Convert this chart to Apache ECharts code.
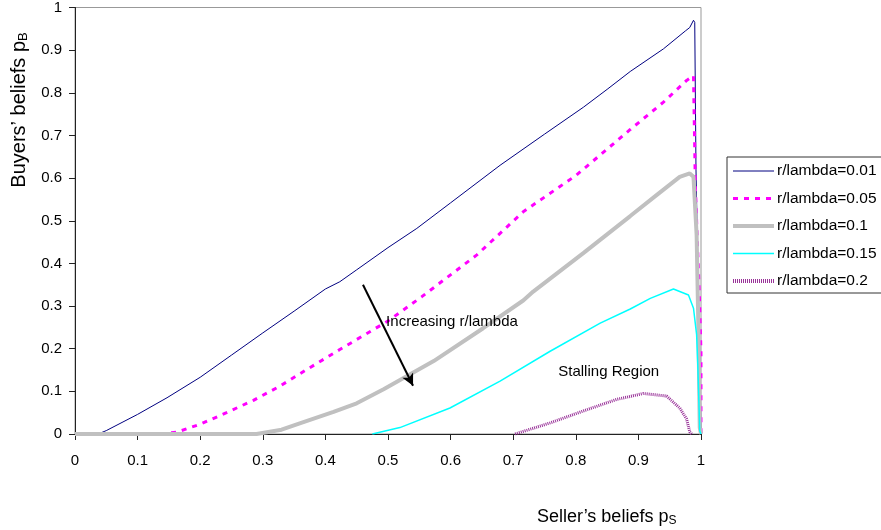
<!DOCTYPE html>
<html>
<head>
<meta charset="utf-8">
<script src="https://cdn.jsdelivr.net/npm/echarts@6/dist/echarts.min.js"></script>
<style>
  html, body { margin: 0; padding: 0; background: #fff; }
  #chart { width: 881px; height: 530px; }
</style>
</head>
<body>
<div id="chart"></div>
<script>
// [seller belief p_S, buyer belief p_B]
var names = ['r/lambda=0.01', 'r/lambda=0.05', 'r/lambda=0.1', 'r/lambda=0.15', 'r/lambda=0.2'];

var r001 = [[0.037,0],[0.05,0.008],[0.1,0.046],[0.147,0.085],[0.2,0.133],[0.25,0.185],[0.3,0.237],
  [0.35,0.288],[0.4,0.34],[0.423,0.357],[0.45,0.385],[0.5,0.437],[0.546,0.482],[0.6,0.542],[0.679,0.63],
  [0.75,0.703],[0.812,0.766],[0.85,0.808],[0.887,0.85],[0.94,0.903],[0.975,0.945],[0.982,0.953],
  [0.988,0.97],[0.99,0.965],[0.992,0.62],[0.995,0.39],[0.998,0.19],[1,0]];

var r005 = [[0.136,0],[0.162,0.004],[0.2,0.023],[0.242,0.05],[0.285,0.079],[0.327,0.112],[0.37,0.151],
  [0.423,0.198],[0.5,0.265],[0.554,0.322],[0.642,0.42],[0.716,0.521],[0.801,0.607],[0.887,0.714],
  [0.94,0.778],[0.977,0.829],[0.988,0.84],[0.991,0.58],[0.998,0.3],[1,0.19],[1,0]];

var r01 = [[0,0],[0.29,0],[0.33,0.01],[0.359,0.025],[0.413,0.052],[0.45,0.072],[0.493,0.105],[0.573,0.171],
  [0.652,0.248],[0.716,0.313],[0.732,0.334],[0.812,0.424],[0.887,0.511],[0.929,0.56],[0.966,0.603],
  [0.982,0.611],[0.988,0.603],[0.993,0.467],[0.996,0.234],[0.998,0.015],[1,0]];

var r015 = [[0.475,0],[0.519,0.015],[0.599,0.061],[0.679,0.124],[0.759,0.194],[0.839,0.26],
  [0.887,0.293],[0.919,0.318],[0.956,0.34],[0.98,0.326],[0.988,0.295],[0.993,0.233],[0.995,0.156],
  [0.998,0.007],[1,0]];

var r02 = [[0.703,0],[0.759,0.026],[0.812,0.054],[0.865,0.081],[0.908,0.095],[0.945,0.089],
  [0.966,0.061],[0.977,0.035],[0.982,0.005],[0.985,0]];

// annotations, in data coordinates
var arrowFrom = [0.46, 0.35], arrowTo = [0.54, 0.113];
var notes = [{ text: 'Increasing r/lambda', at: [0.497, 0.262] }, { text: 'Stalling Region', at: [0.772, 0.146] }];

var FONT = '"Liberation Sans", Arial, sans-serif';

var styles = [
  { color: '#000080', width: 1, type: 'solid' },
  { color: '#ff00ff', width: 3, type: [5, 6] },
  { color: '#c0c0c0', width: 4, type: 'solid' },
  { color: '#00ffff', width: 1.5, type: 'solid' },
  { color: '#993399', width: 3, type: [1, 1] }
];
var allData = [r001, r005, r01, r015, r02];

var series = allData.map(function (d, i) {
  return {
    name: names[i],
    type: 'line',
    data: d,
    symbol: 'none',
    smooth: false,
    animation: false,
    color: styles[i].color,
    lineStyle: { color: styles[i].color, width: styles[i].width, type: styles[i].type },
    emphasis: { disabled: true }
  };
});

series[0].markLine = {
  silent: true,
  symbol: ['none', 'arrow'],
  symbolSize: [9, 12],
  label: { show: false },
  lineStyle: { color: '#000', width: 2, type: 'solid' },
  data: [[{ coord: arrowFrom }, { coord: arrowTo }]]
};
series[0].markPoint = {
  silent: true,
  symbol: 'circle',
  symbolSize: 0,
  data: notes.map(function (n) {
    return {
      coord: n.at,
      label: { show: true, position: 'right', distance: 0, formatter: n.text, color: '#000', fontSize: 15, fontFamily: FONT }
    };
  })
};

var legendWidths = [1, 3, 4, 1.5, 4];

var option = {
  animation: false,
  grid: { left: 75, right: 180, top: 5, bottom: 96, show: true, borderColor: '#999', borderWidth: 1, backgroundColor: '#fff' },
  xAxis: {
    type: 'value', min: 0, max: 1, interval: 0.1,
    axisLine: { lineStyle: { color: '#222', width: 1 } },
    axisTick: { show: true, length: 6, lineStyle: { color: '#222' } },
    axisLabel: { color: '#000', fontSize: 15, fontFamily: FONT, margin: 19 },
    splitLine: { show: false }
  },
  yAxis: {
    type: 'value', min: 0, max: 1, interval: 0.1,
    axisLine: { show: true, lineStyle: { color: '#222', width: 1 } },
    axisTick: { show: true, length: 6, lineStyle: { color: '#222' } },
    axisLabel: { color: '#000', fontSize: 15, fontFamily: FONT, margin: 13 },
    splitLine: { show: false }
  },
  legend: {
    orient: 'vertical',
    left: 727, top: 157,
    padding: [6, 40, 4, 4],
    itemWidth: 41, itemHeight: 14, itemGap: 11.5,
    backgroundColor: '#fff', borderColor: '#333', borderWidth: 1, borderRadius: 0,
    selectedMode: false,
    itemStyle: { opacity: 0 },
    textStyle: { color: '#000', fontSize: 15.5, fontFamily: FONT, padding: [0, 0, 0, -2] },
    data: names.map(function (n, i) {
      return { name: n, lineStyle: { width: legendWidths[i] }, itemStyle: { opacity: 0 } };
    })
  },
  graphic: [
    {
      type: 'text', x: 19, y: 110, rotation: Math.PI / 2,
      style: {
        text: 'Buyers’ beliefs p{s|B}', fill: '#000', font: '20px ' + FONT,
        align: 'center', verticalAlign: 'middle',
        rich: { s: { fontSize: 13, fontFamily: FONT, fill: '#000', padding: [9, 0, 0, 0] } }
      }
    },
    {
      type: 'text', x: 537, y: 517,
      style: {
        text: 'Seller’s beliefs p{s|S}', fill: '#000', font: '18px ' + FONT,
        align: 'left', verticalAlign: 'middle',
        rich: { s: { fontSize: 12, fontFamily: FONT, fill: '#000', padding: [8, 0, 0, 0] } }
      }
    }
  ],
  series: series
};

var chart = echarts.init(document.getElementById('chart'));
chart.setOption(option);
</script>
</body>
</html>
